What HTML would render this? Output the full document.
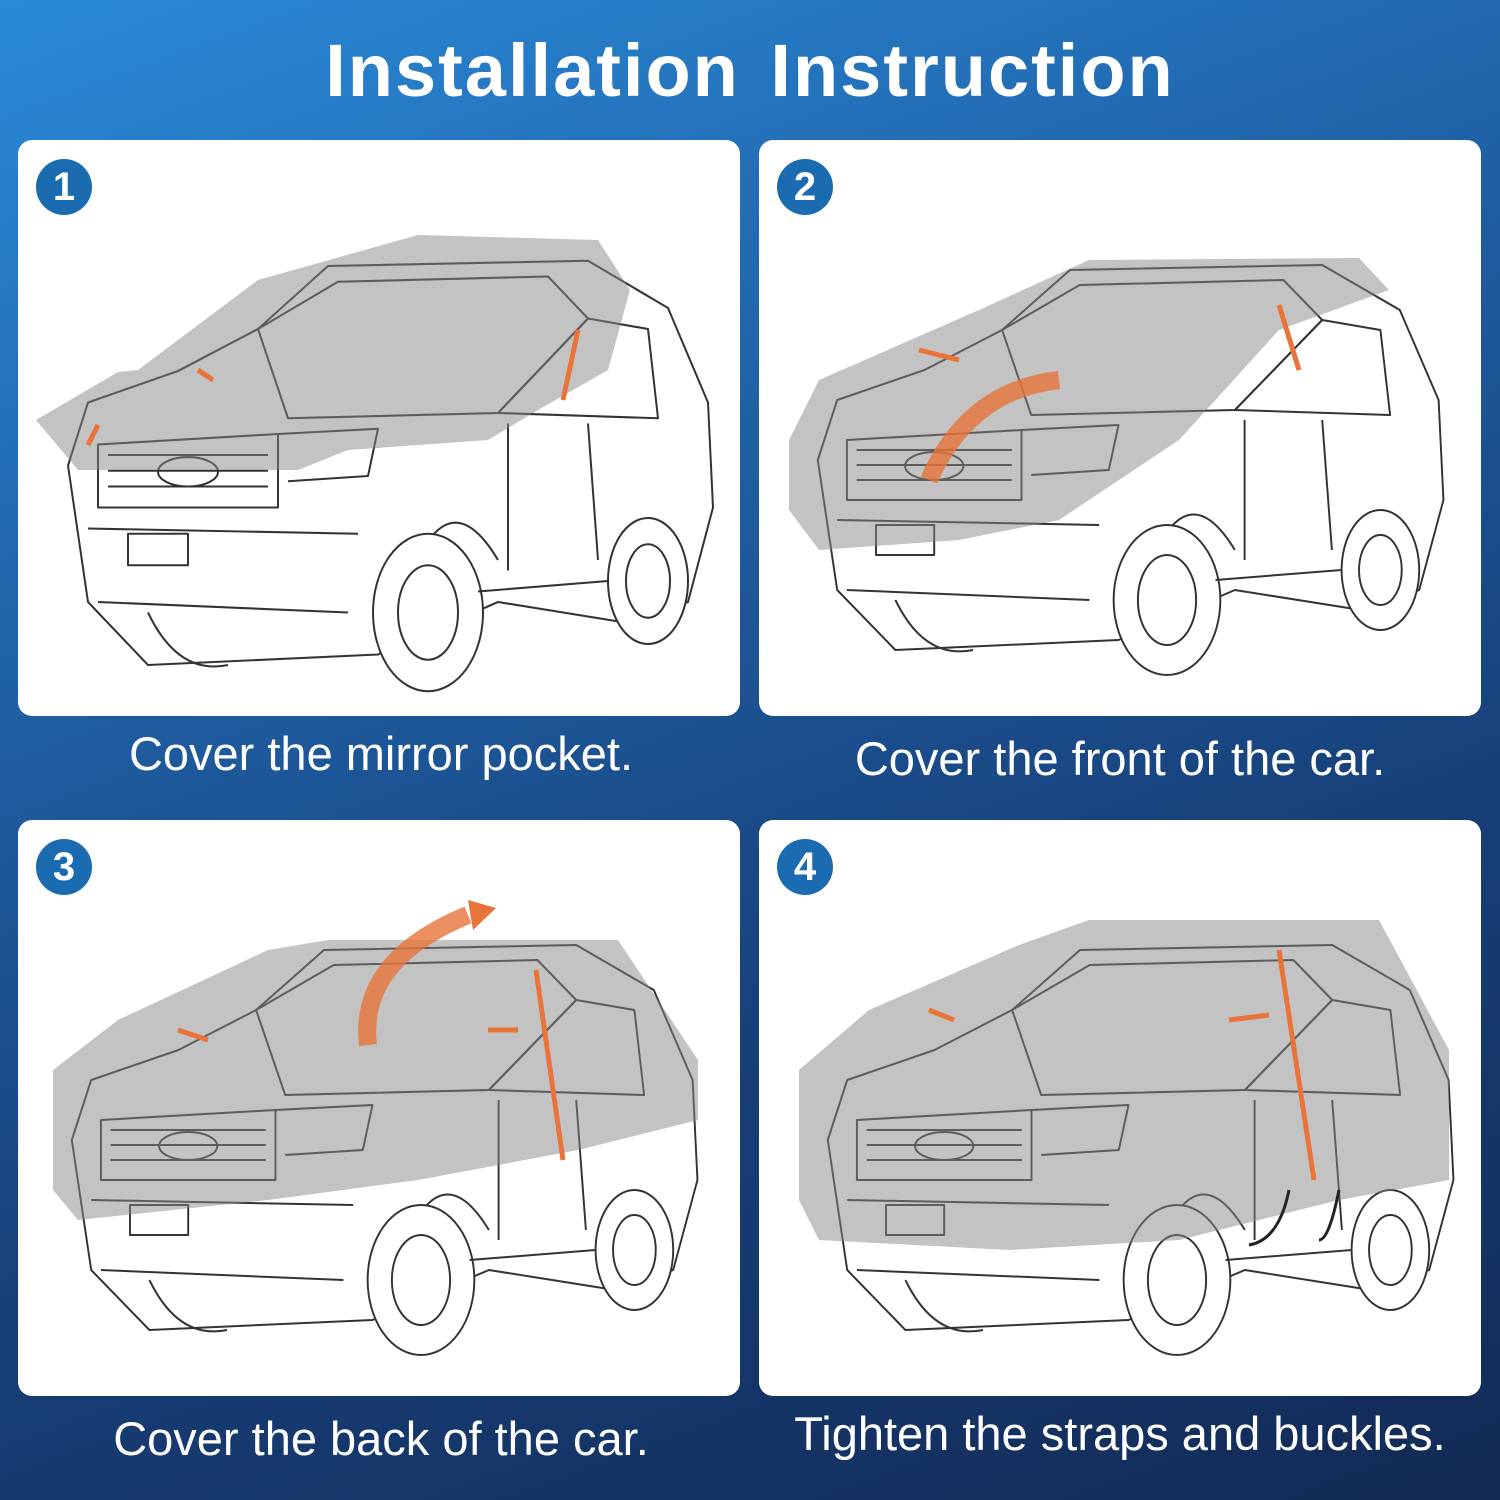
<!DOCTYPE html>
<html><head><meta charset="utf-8"><style>
html,body{margin:0;padding:0}
body{width:1500px;height:1500px;position:relative;overflow:hidden;font-family:"Liberation Sans",sans-serif;
background:linear-gradient(160deg,#2a8ad8 0%,#1f5fa3 35%,#173f78 65%,#122a55 100%);}
.title{position:absolute;top:28px;left:0;width:1500px;text-align:center;color:#fff;font-weight:bold;font-size:74px;letter-spacing:2px;word-spacing:8px}
.panel{position:absolute;width:722px;height:576px;background:#fff;border-radius:14px;overflow:hidden}
.num{position:absolute;left:18px;top:19px;width:56px;height:56px;border-radius:50%;background:#1b6bb0;color:#fff;font-weight:bold;font-size:40px;text-align:center;line-height:56px}
.cap{position:absolute;width:722px;text-align:center;color:#fff;font-size:47px}
svg{position:absolute;left:0;top:0}
</style></head><body>
<div class="title">Installation Instruction</div>

<svg width="0" height="0" style="position:absolute">
<defs>
<g id="car" fill="none" stroke="#333" stroke-width="2" stroke-linejoin="round">
 <path d="M40 290 L60 230 L150 200 L230 160 L300 100 L560 95 L640 140 L680 230 L685 330 L660 420 L600 440 L470 420 L350 470 L120 480 L60 420 Z" fill="#fff"/>
 <path d="M230 160 L310 115 L520 110 L560 150 L470 240 L260 245 Z"/>
 <path d="M470 240 L560 150 L620 160 L630 245 Z"/>
 <path d="M70 270 L250 260 L250 330 L70 330 Z"/>
 <path d="M80 280 L240 280 M80 295 L240 295 M80 310 L240 310"/>
 <ellipse cx="160" cy="296" rx="30" ry="14"/>
 <path d="M250 260 L350 255 L340 300 L260 305"/>
 <rect x="100" y="355" width="60" height="30"/>
 <path d="M60 350 L330 355 M70 420 L320 430"/>
 <path d="M380 400 Q420 300 470 380" />
 <ellipse cx="400" cy="430" rx="55" ry="75" fill="#fff"/>
 <ellipse cx="400" cy="430" rx="30" ry="45"/>
 <ellipse cx="620" cy="400" rx="40" ry="60" fill="#fff"/>
 <ellipse cx="620" cy="400" rx="22" ry="35"/>
 <path d="M120 430 Q150 490 200 480" />
 <path d="M480 250 L480 390 M560 250 L570 380"/>
 <path d="M450 410 L580 400"/>
</g>
</defs></svg>

<div class="panel" style="left:18px;top:140px">
<svg width="722" height="576"><use href="#car" x="0" y="20" transform="translate(10,0) scale(1,1.05)"/>
<path d="M18 280 L100 232 L120 230 L240 140 L400 95 L580 100 L612 150 L590 230 L520 270 L470 300 L330 310 L280 330 L60 330 Z" fill="#888" fill-opacity=".5"/>
<path d="M180 230 L195 240 M560 190 L545 260 M80 285 L70 305" stroke="#e8743a" stroke-width="5"/></svg>
<div class="num">1</div></div>

<div class="panel" style="left:759px;top:140px">
<svg width="722" height="576"><use href="#car" transform="translate(20,30) scale(0.97,1.0)"/>
<path d="M30 300 L60 240 L220 170 L330 120 L600 118 L630 150 L520 190 L420 300 L300 380 L200 400 L60 410 L30 370 Z" fill="#888" fill-opacity=".5"/>
<path d="M300 240 Q210 250 170 340" stroke="#e8743a" stroke-width="18" fill="none" opacity=".8"/>
<path d="M520 165 L540 230 M160 210 L200 220" stroke="#e8743a" stroke-width="5"/></svg>
<div class="num">2</div></div>

<div class="panel" style="left:18px;top:820px">
<svg width="722" height="576"><use href="#car" transform="translate(15,30) scale(0.97,1.0)"/>
<path d="M35 250 L100 200 L250 130 L310 120 L600 120 L680 240 L680 300 L560 330 L400 360 L250 380 L60 400 L35 370 Z" fill="#888" fill-opacity=".5"/>
<path d="M350 225 Q340 140 450 95" stroke="#e8743a" stroke-width="18" fill="none" opacity=".8"/>
<path d="M450 80 L478 88 L455 110 Z" fill="#e8743a"/>
<path d="M518 150 L545 340 M160 210 L190 220 M470 210 L500 210" stroke="#e8743a" stroke-width="5"/></svg>
<div class="num">3</div></div>

<div class="panel" style="left:759px;top:820px">
<svg width="722" height="576"><use href="#car" transform="translate(30,30) scale(0.97,1.0)"/>
<path d="M40 250 L110 190 L260 125 L330 100 L620 100 L690 230 L690 360 L580 380 L420 420 L250 430 L60 420 L40 380 Z" fill="#888" fill-opacity=".5"/>
<path d="M520 130 L555 360 M170 190 L195 200 M470 200 L510 195" stroke="#e8743a" stroke-width="5"/>
<path d="M530 370 Q520 420 490 425 M580 370 Q570 420 560 420" stroke="#222" stroke-width="3" fill="none"/></svg>
<div class="num">4</div></div>

<div class="cap" style="left:20px;top:726px">Cover the mirror pocket.</div>
<div class="cap" style="left:759px;top:731px">Cover the front of the car.</div>
<div class="cap" style="left:20px;top:1411px">Cover the back of the car.</div>
<div class="cap" style="left:759px;top:1406px">Tighten the straps and buckles.</div>
</body></html>
